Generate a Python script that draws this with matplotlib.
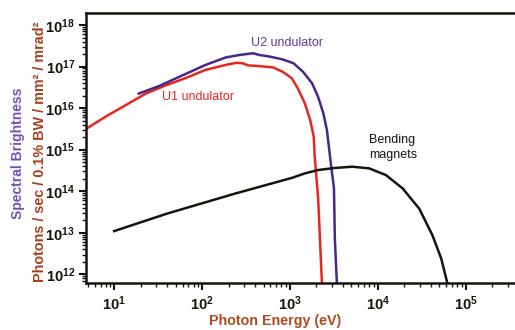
import numpy as np
import matplotlib.pyplot as plt
from matplotlib.ticker import LogLocator, FuncFormatter, NullFormatter

plt.rcParams['font.family'] = ['Liberation Sans', 'DejaVu Sans']
plt.rcParams['mathtext.fontset'] = 'custom'
plt.rcParams['mathtext.rm'] = 'Liberation Sans:bold'
plt.rcParams['mathtext.bf'] = 'Liberation Sans:bold'
plt.rcParams['mathtext.it'] = 'Liberation Sans:bold'

# Values (log10 of photon energy in eV, log10 of brightness)
u1_logE = [0.68, 0.90, 1.13, 1.36, 1.59, 1.81, 2.04, 2.27, 2.39, 2.46, 2.52, 2.65,
           2.81, 2.92, 3.02, 3.09, 3.17, 3.23, 3.27, 3.28, 3.32, 3.365]
u1_logB = [15.50, 15.79, 16.07, 16.35, 16.55, 16.72, 16.92, 17.04, 17.09, 17.08, 17.03, 17.01,
           16.98, 16.87, 16.72, 16.47, 16.11, 15.71, 15.31, 14.87, 13.83, 11.70]

u2_logE = [1.28, 1.51, 1.81, 2.04, 2.27, 2.43, 2.58, 2.65, 2.77, 2.92, 3.04, 3.15,
           3.25, 3.32, 3.38, 3.42, 3.46, 3.50, 3.51, 3.535]
u2_logB = [16.35, 16.53, 16.82, 17.04, 17.22, 17.28, 17.32, 17.28, 17.24, 17.17, 17.08, 16.87,
           16.60, 16.27, 15.87, 15.47, 14.75, 14.07, 12.87, 11.70]

bm_logE = [1.00, 1.60, 2.37, 3.02, 3.17, 3.32, 3.51, 3.71, 3.90, 4.09, 4.28, 4.47,
           4.62, 4.72, 4.80]
bm_logB = [13.04, 13.46, 13.94, 14.32, 14.43, 14.51, 14.56, 14.59, 14.55, 14.39, 14.07, 13.58,
           12.94, 12.38, 11.70]

red = '#e8261e'
purple = '#47288a'
black = '#16140c'

fig = plt.figure(figsize=(5.15, 3.30), dpi=100)
ax = fig.add_axes([0.167, 0.141, 0.84, 0.821])

ax.plot(10 ** np.array(u1_logE), 10 ** np.array(u1_logB), color=red, lw=1.8)
ax.plot(10 ** np.array(u2_logE), 10 ** np.array(u2_logB), color=purple, lw=1.8)
ax.plot(10 ** np.array(bm_logE), 10 ** np.array(bm_logB), color=black, lw=1.8)

ax.set_xscale('log')
ax.set_yscale('log')
ax.set_xlim(10 ** 0.68, 10 ** 5.6)
ax.set_ylim(10 ** 11.78, 10 ** 18.30)

fmt = FuncFormatter(lambda v, p: r'$10^{%d}$' % round(np.log10(v)))
ax.xaxis.set_major_locator(LogLocator(base=10, numticks=10))
ax.yaxis.set_major_locator(LogLocator(base=10, numticks=10))
ax.xaxis.set_major_formatter(fmt)
ax.yaxis.set_major_formatter(fmt)
ax.xaxis.set_minor_locator(LogLocator(base=10, subs=np.arange(2, 10), numticks=20))
ax.yaxis.set_minor_locator(LogLocator(base=10, subs=np.arange(2, 10), numticks=20))
ax.xaxis.set_minor_formatter(NullFormatter())
ax.yaxis.set_minor_formatter(NullFormatter())

ax.tick_params(which='major', direction='out', length=5, width=1.5, labelsize=10.5,
               colors=black, pad=3)
ax.tick_params(which='minor', direction='out', length=3, width=1.0, colors=black)

for s in ['left', 'bottom', 'top']:
    ax.spines[s].set_linewidth(1.8)
    ax.spines[s].set_color(black)
ax.spines['right'].set_visible(False)

fig.text(0.534, 0.026, 'Photon Energy (eV)', fontsize=10.3, fontweight='bold',
         color='#b04a20', ha='center', va='center')
fig.text(0.078, 0.541, 'Photons / sec / 0.1% BW / mm² / mrad²', rotation=90,
         fontsize=10.4, fontweight='bold', color='#a8401c', ha='center', va='center')
fig.text(0.035, 0.535, 'Spectral Brightness', rotation=90,
         fontsize=10, fontweight='bold', color='#7650b6', ha='center', va='center')

ax.text(10 ** 1.54, 10 ** 16.265, 'U1 undulator', color=red, fontsize=9, va='center')
ax.text(10 ** 2.56, 10 ** 17.566, 'U2 undulator', color='#5a3c9a', fontsize=9, va='center')
ax.text(10 ** 3.90, 10 ** 15.05, 'Bending\nmagnets', color=black, fontsize=9,
        va='center', linespacing=1.25)

fig.savefig('out.png', dpi=100)
